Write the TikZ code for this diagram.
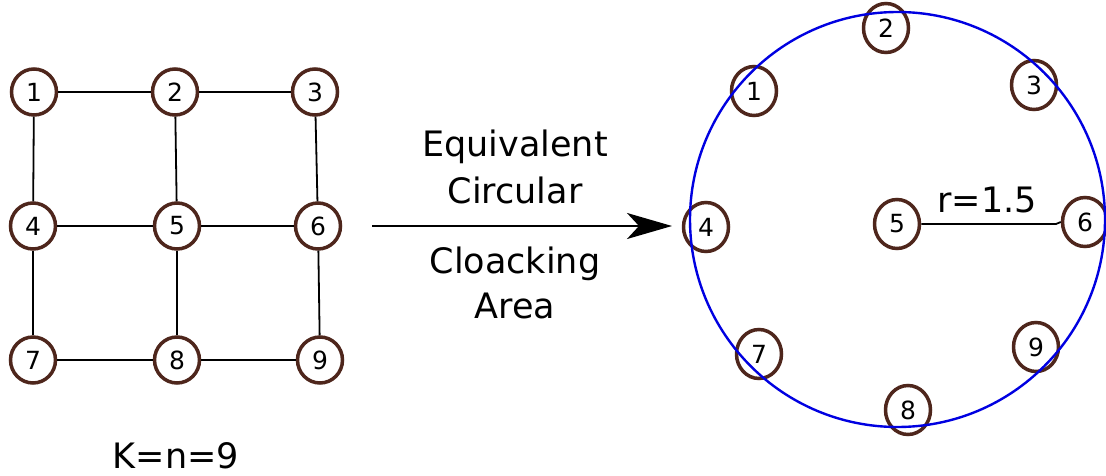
\documentclass[tikz,border=0pt]{standalone}
\usepackage{fontspec}
\setmainfont{DejaVu Sans}
\usetikzlibrary{arrows.meta,shapes.geometric}
\definecolor{nodebrown}{RGB}{78,38,28}
\definecolor{ringblue}{RGB}{0,0,225}
\begin{document}
\begin{tikzpicture}[x=1pt,y=-1pt,
  gnode/.style={ellipse,draw=nodebrown,line width=3.5pt,fill=white,inner sep=0pt,
    minimum width=45pt,minimum height=46pt,font=\fontsize{25}{25}\selectfont},
  cnode/.style={gnode,minimum width=45pt,minimum height=49pt},
  edge/.style={line width=1.8pt,black},
  bigtext/.style={font=\fontsize{35}{35}\selectfont,anchor=base,inner sep=0pt}]
\useasboundingbox (0,0) rectangle (1106,476);
% grid
\node[gnode] (g1) at (34,92) {1};
\node[gnode] (g2) at (175,92) {2};
\node[gnode] (g3) at (315,92) {3};
\node[gnode] (g4) at (33,226) {4};
\node[gnode] (g5) at (177,226) {5};
\node[gnode] (g6) at (318,226) {6};
\node[gnode] (g7) at (33,360) {7};
\node[gnode] (g8) at (177,360) {8};
\node[gnode] (g9) at (320,360) {9};
\draw[edge] (g1) -- (g2);
\draw[edge] (g2) -- (g3);
\draw[edge] (g1) -- (g4);
\draw[edge] (g2) -- (g5);
\draw[edge] (g3) -- (g6);
\draw[edge] (g4) -- (g5);
\draw[edge] (g5) -- (g6);
\draw[edge] (g4) -- (g7);
\draw[edge] (g5) -- (g8);
\draw[edge] (g6) -- (g9);
\draw[edge] (g7) -- (g8);
\draw[edge] (g8) -- (g9);
\node[bigtext] (k) at (176,468) {K=n=9};
% arrow
\coordinate (as) at (372,226);
\coordinate (ae) at (672,226);
\draw[line width=2.2pt,-{Stealth[length=45pt,width=26pt,inset=12pt]}] (as) -- (ae);
\node[bigtext] (t1) at (515,157) {Equivalent};
\node[bigtext] (t2) at (515,203) {Circular};
\node[bigtext] (t3) at (515,273) {Cloacking};
\node[bigtext] (t4) at (515,318) {Area};
% circle
\node[cnode] (c2) at (886,28) {2};
\node[cnode] (c1) at (754,91) {1};
\node[cnode] (c3) at (1034,85) {3};
\node[cnode] (c4) at (706,227) {4};
\node[cnode] (c5) at (897,224) {5};
\node[cnode] (c6) at (1085,222) {6};
\node[cnode] (c7) at (759,354) {7};
\node[cnode] (c8) at (908,410) {8};
\node[cnode] (c9) at (1036,347) {9};
\coordinate (ringc) at (897.5,219.5);
\draw[ringblue,line width=2.4pt] (ringc) circle[radius=207.5];
\coordinate (rk) at (1056,224);
\draw[edge] (c5.east) -- (rk) to[out=0,in=180] (c6.west);
\node[bigtext] (r) at (987,212) {r=1.5};
\end{tikzpicture}
\end{document}
